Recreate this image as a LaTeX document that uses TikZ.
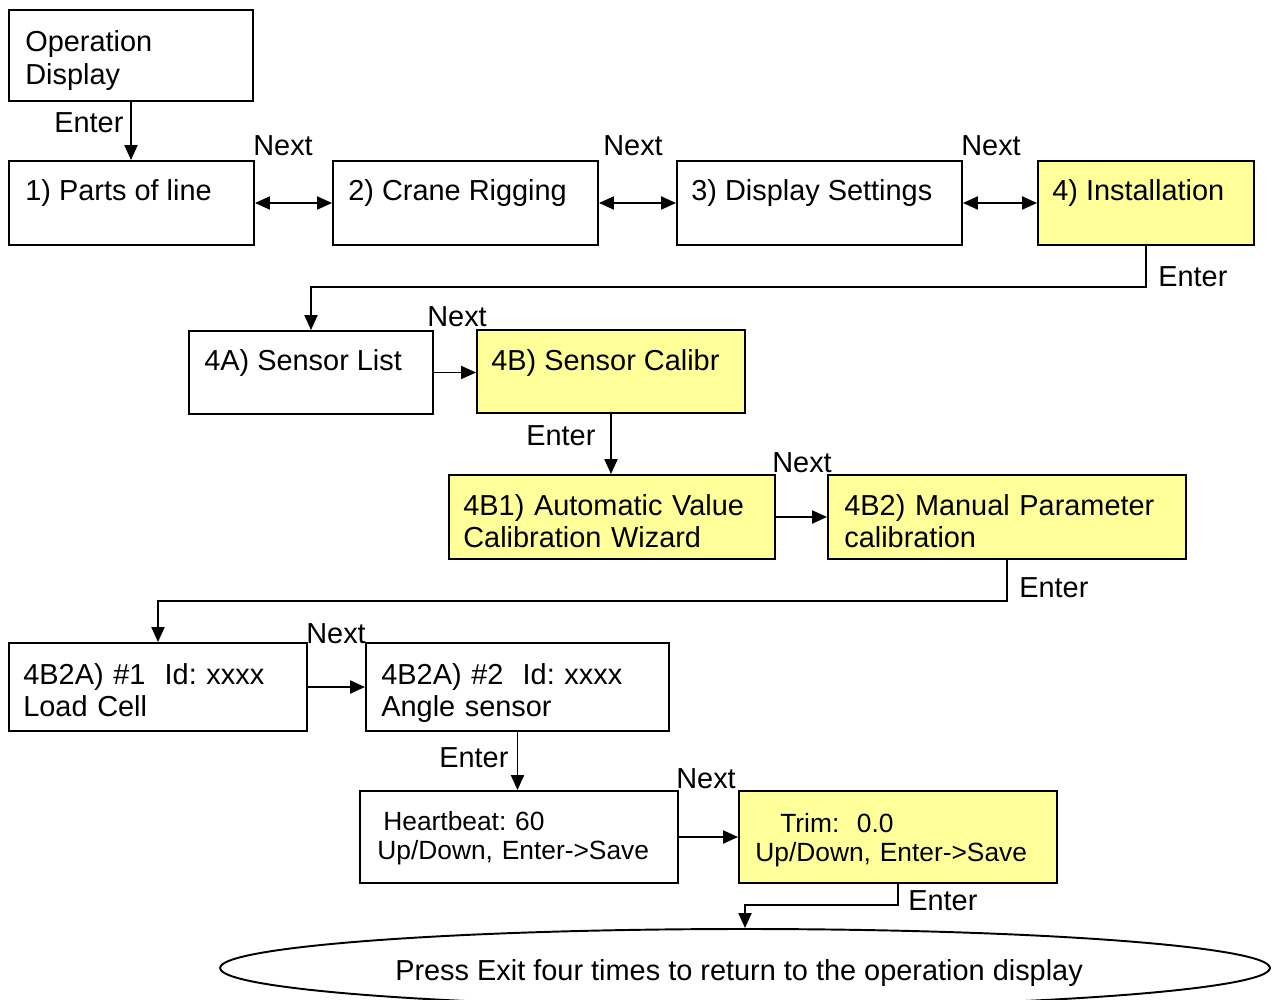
\documentclass[tikz,border=0pt]{standalone}
\usepackage{fontspec}
\setmainfont{Liberation Sans}
\usetikzlibrary{arrows.meta,shapes.geometric,fit}
\definecolor{boxyellow}{RGB}{255,255,153}
\frenchspacing
\begin{document}
\frenchspacing
\begin{tikzpicture}[x=0.02cm,y=-0.02cm,
  box/.style={draw, line width=1.1pt, inner sep=0pt},
  ybox/.style={box, fill=boxyellow},
  txt/.style={inner sep=0pt, anchor=base west, align=left, font=\fontsize{16.45pt}{18.6pt}\selectfont\frenchspacing},
  stxt/.style={txt, font=\fontsize{15pt}{17pt}\selectfont\frenchspacing},
  lbl/.style={inner sep=0pt, anchor=base west, font=\fontsize{16.45pt}{18.6pt}\selectfont},
  arr/.style={line width=1.1pt, -{Triangle[length=8.5pt,width=7.4pt]}},
  darr/.style={line width=1.1pt, {Triangle[length=8.5pt,width=7.4pt]}-{Triangle[length=8.5pt,width=7.4pt]}}]
\useasboundingbox (0,0) rectangle (1275,1000);

% boxes
\node[box, fit={(9,10) (253,101)}] (op) {};
\node[box, fit={(9,161) (254,245)}] (p1) {};
\node[box, fit={(333,161) (598,245)}] (p2) {};
\node[box, fit={(677,161) (962,245)}] (p3) {};
\node[ybox, fit={(1038,161) (1254,245)}] (p4) {};
\node[box, fit={(189,331) (433,414)}] (s4a) {};
\node[ybox, fit={(477,330) (745,413)}] (s4b) {};
\node[ybox, fit={(449,475) (775,559)}] (b1) {};
\node[ybox, fit={(828,475) (1186,559)}] (b2) {};
\node[box, fit={(9,643) (307,731)}] (a1) {};
\node[box, fit={(366,643) (669,731)}] (a2) {};
\node[box, fit={(360,791) (678,883)}] (hb) {};
\node[ybox, fit={(739,791) (1057,883)}] (tr) {};
\node[draw, line width=1.1pt, ellipse, minimum width=21cm, minimum height=1.56cm, inner sep=0pt,
      text height=14.7pt, text depth=0pt, font=\fontsize{16.45pt}{18.6pt}\selectfont\frenchspacing] (ex) at (745,968)
      {Press Exit four times to return to the operation display\hspace*{6.8pt}};

% box texts
\node[txt, text width=4.4cm] (t-op) at (25,52) {Operation\\Display};
\node[txt] (t-p1) at (25,201) {1) Parts of line};
\node[txt] (t-p2) at (348,201) {2) Crane Rigging};
\node[txt] (t-p3) at (691,201) {3) Display Settings};
\node[txt] (t-p4) at (1052,201) {4) Installation};
\node[txt] (t-s4a) at (204,370) {4A) Sensor List};
\node[txt] (t-s4b) at (491,370) {4B) Sensor Calibr};
\node[txt, text width=6.2cm] (t-b1) at (463,515) {4B1) Automatic Value\\Calibration Wizard};
\node[txt, text width=6.6cm] (t-b2) at (844,515) {4B2) Manual Parameter\\calibration};
\node[txt, text width=5.4cm] (t-a1) at (23,684) {4B2A) \#1\ \ Id: xxxx\\Load Cell};
\node[txt, text width=5.4cm] (t-a2) at (381,684) {4B2A) \#2\ \ Id: xxxx\\Angle sensor};
\node[stxt, text width=5.8cm] (t-hb) at (377,830) {\hspace*{3.4pt}Heartbeat: 60\\Up/Down, Enter->Save};
\node[stxt, text width=5.8cm] (t-tr) at (755,832) {\hspace*{14.2pt}Trim:\ \ 0.0\\Up/Down, Enter->Save};

% connector labels
\node[lbl] (l1) at (54,133) {Enter};
\node[lbl] (l2) at (253,156) {Next};
\node[lbl] (l3) at (603,156) {Next};
\node[lbl] (l4) at (961,156) {Next};
\node[lbl] (l5) at (1158,287) {Enter};
\node[lbl] (l6) at (427,327) {Next};
\node[lbl] (l7) at (526,445) {Enter};
\node[lbl] (l8) at (772,472) {Next};
\node[lbl] (l9) at (1019,597) {Enter};
\node[lbl] (l10) at (306,643) {Next};
\node[lbl] (l11) at (439,767) {Enter};
\node[lbl] (l12) at (676,788) {Next};
\node[lbl] (l13) at (908,910) {Enter};

% connectors
\coordinate (j1) at (0,287);
\coordinate (j2) at (0,601);
\coordinate (j3) at (0,905);
\draw[arr] (op.south) -- (op.south |- p1.north);
\draw[darr] (p1.east) -- (p2.west);
\draw[darr] (p2.east) -- (p3.west);
\draw[darr] (p3.east) -- (p4.west);
\draw[arr] (p4.south) |- (s4a.north |- j1) -- (s4a.north);
\draw[arr] (s4a.east) -- (s4a.east -| s4b.west);
\draw[arr] (s4b.south) -- (s4b.south |- b1.north);
\draw[arr] (b1.east) -- (b1.east -| b2.west);
\draw[arr] (b2.south) |- (a1.north |- j2) -- (a1.north);
\draw[arr] (a1.east) -- (a1.east -| a2.west);
\draw[arr] (a2.south) -- (a2.south |- hb.north);
\draw[arr] (hb.east) -- (hb.east -| tr.west);
\draw[arr] (tr.south) |- (ex.north |- j3) -- (ex.north);
\end{tikzpicture}
\end{document}
